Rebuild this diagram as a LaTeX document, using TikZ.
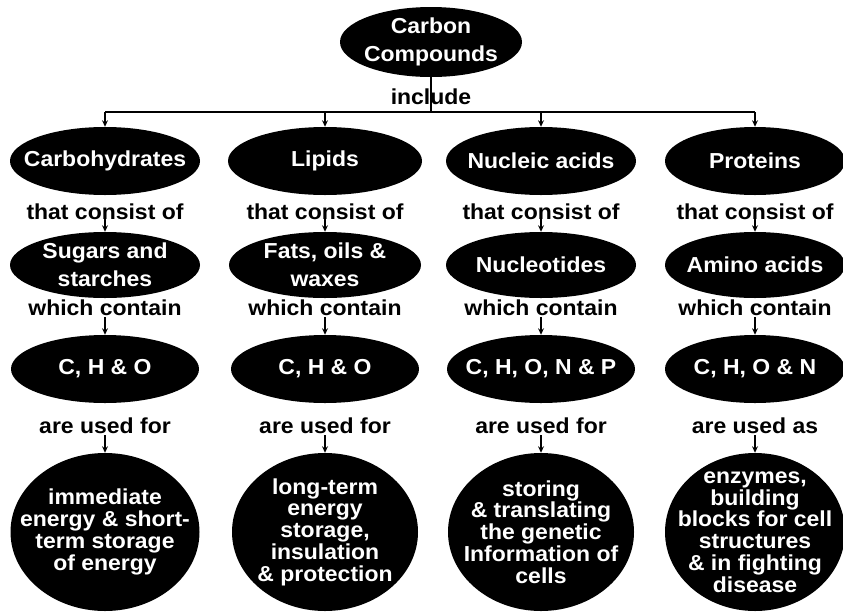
\documentclass[tikz,border=0pt]{standalone}
\usepackage{fontspec}
\usetikzlibrary{arrows.meta, shapes.geometric}

\newfontfamily\mapfont{Liberation Sans}[FakeStretch=1.06]
\newcommand\mapsize{\fontsize{18.5pt}{23.5pt}\selectfont}
\newcommand\roomsize{\fontsize{18.5pt}{18.6pt}\selectfont}

\tikzset{
	concept/.style 2 args={ellipse, fill=black, inner sep=0pt,
		minimum width=#1*\u, minimum height=#2*\u},
	ctext/.style={text=white, align=center, inner sep=0pt,
		font=\mapfont\bfseries\mapsize},
	rtext/.style={ctext, font=\mapfont\bfseries\roomsize},
	link/.style={text=black, inner sep=1pt, font=\mapfont\bfseries\mapsize},
	flow/.style={line width=1.2pt, -{Stealth[length=5.5pt, width=5pt]}},
}

\begin{document}
\begin{tikzpicture}[x=0.03cm, y=-0.03cm]
	% параметры
	\def\u{0.03cm} % один пиксель

	\useasboundingbox (0,0) rectangle (843,611);

	% вершина
	\node[concept={182}{70}, label={[ctext]center:Carbon\\Compounds}] (top) at (431,42) {};
	\node[link] (incl) at (431,97) {include};
	\coordinate (bar) at (431,112);

	% первый ряд
	\node[concept={190}{68}, label={[ctext]center:Carbohydrates}] (carb) at (105,161) {};
	\node[concept={194}{68}, label={[ctext]center:Lipids}] (lip) at (325,161) {};
	\node[concept={190}{68}, label={[ctext]center:Nucleic acids}] (nuc) at (541,161) {};
	\node[concept={180}{68}, label={[ctext]center:Proteins}] (prot) at (755,161) {};

	\node[link] (carb-of) at (105,212) {that consist of};
	\node[link] (lip-of) at (325,212) {that consist of};
	\node[link] (nuc-of) at (541,212) {that consist of};
	\node[link] (prot-of) at (755,212) {that consist of};

	% второй ряд
	\node[concept={190}{66}, label={[ctext]center:Sugars and\\starches}] (carb-sub) at (105,265) {};
	\node[concept={192}{66}, label={[ctext]center:Fats, oils \&\\waxes}] (lip-sub) at (325,265) {};
	\node[concept={190}{66}, label={[ctext]center:Nucleotides}] (nuc-sub) at (541,265) {};
	\node[concept={180}{66}, label={[ctext]center:Amino acids}] (prot-sub) at (755,265) {};

	\node[link] (carb-has) at (105,308) {which contain};
	\node[link] (lip-has) at (325,308) {which contain};
	\node[link] (nuc-has) at (541,308) {which contain};
	\node[link] (prot-has) at (755,308) {which contain};

	% третий ряд
	\node[concept={188}{68}, label={[ctext]center:C, H \& O}] (carb-el) at (105,369) {};
	\node[concept={188}{68}, label={[ctext]center:C, H \& O}] (lip-el) at (325,369) {};
	\node[concept={188}{68}, label={[ctext]center:C, H, O, N \& P}] (nuc-el) at (541,369) {};
	\node[concept={180}{68}, label={[ctext]center:C, H, O \& N}] (prot-el) at (755,369) {};

	\node[link] (carb-use) at (105,426) {are used for};
	\node[link] (lip-use) at (325,426) {are used for};
	\node[link] (nuc-use) at (541,426) {are used for};
	\node[link] (prot-use) at (755,426) {are used as};

	% нижний ряд
	\node[concept={189}{158}, label={[rtext]center:immediate\\energy \& short-\\term storage\\of energy}] (carb-role) at (105,532) {};
	\node[concept={186}{158}, label={[rtext]center:long-term\\energy\\storage,\\insulation\\\& protection}] (lip-role) at (325,532) {};
	\node[concept={186}{158}, label={[rtext]center:storing\\\& translating\\the genetic\\Information of\\cells}] (nuc-role) at (541,532) {};
	\node[concept={180}{158}, label={[rtext]center:enzymes,\\building\\blocks for cell\\structures\\\& in fighting\\disease}] (prot-role) at (755,532) {};

	% связи
	\draw[line width=1.2pt] (top.south) -- (bar);
	\draw[line width=1.2pt] (carb.north |- bar) -- (prot.north |- bar);
	\foreach \c in {carb, lip, nuc, prot} {
		\draw[flow] (\c.north |- bar) -- (\c.north);
		\draw[flow] (\c-of.center) -- (\c-sub.north);
		\draw[flow] (\c-has.south) -- (\c-el.north);
		\draw[flow] (\c-use.south) -- (\c-role.north);
	}
\end{tikzpicture}
\end{document}
